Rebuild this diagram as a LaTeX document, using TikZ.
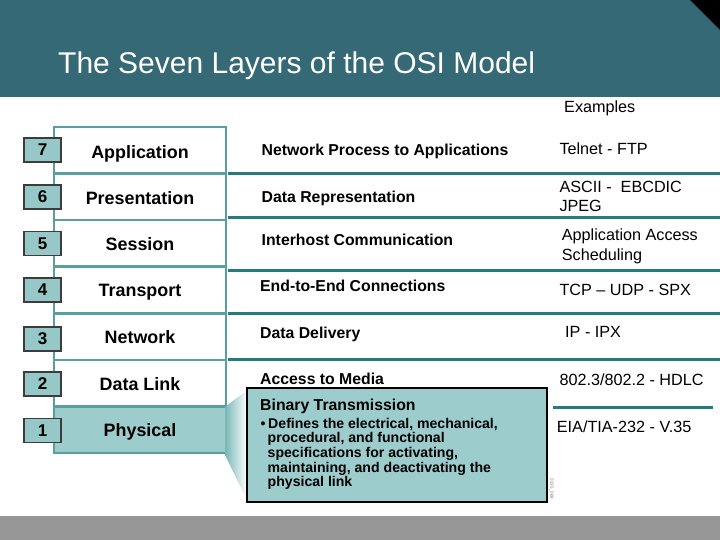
\documentclass[tikz,border=0pt]{standalone}
\usepackage{fontspec}
\setmainfont{Liberation Sans}
\definecolor{header}{RGB}{52,105,117}
\definecolor{tealline}{RGB}{38,124,124}
\definecolor{stackc}{RGB}{88,160,160}
\definecolor{lightteal}{RGB}{156,204,204}
\definecolor{shadeteal}{RGB}{120,182,182}
\definecolor{numfill}{RGB}{150,200,200}
\definecolor{barg}{RGB}{150,150,150}
\begin{document}
\begin{tikzpicture}[x=1pt,y=-1pt,
  rowbox/.style={draw=stackc,line width=2.5pt,minimum width=172pt,minimum height=46.6pt,inner sep=0pt},
  numbox/.style={draw={rgb,255:red,60;green,60;blue,60},line width=1.2pt,fill=numfill,minimum width=37pt,minimum height=24pt,inner sep=0pt,font=\fontsize{17}{20}\selectfont\bfseries},
  rowlabel/.style={anchor=base,inner sep=0pt,font=\fontsize{17.9}{20}\selectfont\bfseries},
  midlabel/.style={anchor=base west,inner sep=0pt,font=\fontsize{15.8}{18}\selectfont\bfseries},
  example/.style={anchor=base west,inner sep=0pt,font=\fontsize{16.2}{19}\selectfont},
  bullettext/.style={anchor=base west,inner sep=0pt,font=\fontsize{14.1}{15}\selectfont\bfseries},
  sepline/.style={draw=tealline,line width=3pt}
]
\useasboundingbox (0,0) rectangle (720,540);
% header
\fill[header] (0,0) rectangle (720,97);
\fill[black] (690,0) -- (720,0) -- (720,30) -- cycle;
\node[anchor=base west,inner sep=0pt,text=white,font=\fontsize{30}{32}\selectfont] (title) at (58,74) {The Seven Layers of the OSI Model};
% bottom bar
\fill[barg] (0,516) rectangle (720,540);

% stack rows
\node[rowbox] (r7) at (140,150.3) {};
\node[rowbox] (r6) at (140,196.9) {};
\node[rowbox] (r5) at (140,243.4) {};
\node[rowbox] (r4) at (140,290.0) {};
\node[rowbox] (r3) at (140,336.6) {};
\node[rowbox] (r2) at (140,383.1) {};
\node[rowbox,fill=lightteal] (r1) at (140,429.7) {};

\node[rowlabel] (l7) at (140,158.3) {Application};
\node[rowlabel] (l6) at (140,204.3) {Presentation};
\node[rowlabel] (l5) at (140,250.7) {Session};
\node[rowlabel] (l4) at (140,296.7) {Transport};
\node[rowlabel] (l3) at (140,343.3) {Network};
\node[rowlabel] (l2) at (140,390) {Data Link};
\node[rowlabel] (l1) at (140,436) {Physical};

% number boxes
\node[numbox] (n7) at (42.5,150) {7};
\node[numbox] (n6) at (42.5,197) {6};
\node[numbox] (n5) at (42.5,243.7) {5};
\node[numbox] (n4) at (42.5,290) {4};
\node[numbox] (n3) at (42.5,339) {3};
\node[numbox] (n2) at (42.5,384) {2};
\node[numbox] (n1) at (42.5,430.5) {1};

% separator lines
\coordinate (s1a) at (228,173.5); \coordinate (s1b) at (720,173.5);
\coordinate (s2a) at (228,217.5); \coordinate (s2b) at (720,217.5);
\coordinate (s3a) at (228,270.7); \coordinate (s3b) at (720,270.7);
\coordinate (s4a) at (228,313); \coordinate (s4b) at (720,313);
\coordinate (s5a) at (228,359.7); \coordinate (s5b) at (720,359.7);
\coordinate (s6a) at (553,407.7); \coordinate (s6b) at (713,407.7);
\draw[sepline] (s1a) -- (s1b);
\draw[sepline] (s2a) -- (s2b);
\draw[sepline] (s3a) -- (s3b);
\draw[sepline] (s4a) -- (s4b);
\draw[sepline] (s5a) -- (s5b);
\draw[sepline] (s6a) -- (s6b);

% middle labels
\node[midlabel] (m7) at (261.5,155.7) {Network Process to Applications};
\node[midlabel] (m6) at (261.5,203) {Data Representation};
\node[midlabel] (m5) at (261.5,245.7) {Interhost Communication};
\node[midlabel] (m4) at (260,291) {End-to-End Connections};
\node[midlabel] (m3) at (260,338.3) {Data Delivery};
\node[midlabel] (m2) at (260,384.3) {Access to Media};

% callout shading
\shade[left color=shadeteal, right color=white] (225,407) -- (247,390) -- (247,500) -- (225,455) -- cycle;
\node[draw=black,line width=1.2pt,fill=lightteal,minimum width=300pt,minimum height=114pt,inner sep=0pt] (cb) at (397,445) {};
\node[midlabel] (cbt) at (260,410) {Binary Transmission};
\node[bullettext] (b1) at (260.5,428.3) {•\hspace{2.6pt}Defines the electrical, mechanical,};
\node[bullettext] (b2) at (267.5,442.9) {procedural, and functional};
\node[bullettext] (b3) at (267.5,457.5) {specifications for activating,};
\node[bullettext] (b4) at (267.5,472.1) {maintaining, and deactivating the};
\node[bullettext] (b5) at (267.5,486.7) {physical link};
\node[rotate=-90,inner sep=0pt,text={rgb,255:red,120;green,120;blue,120},font=\fontsize{4.5}{5}\selectfont] (code) at (551.5,489) {0235\_068};

% examples
\node[example] (ex) at (564,112.5) {Examples};
\node[example] (e7) at (559.3,155) {Telnet - FTP};
\node[example] (e6a) at (559.3,192.7) {ASCII -\ \ EBCDIC};
\node[example] (e6b) at (559.3,211.7) {JPEG};
\node[example] (e5a) at (561.7,240.7) {Application Access};
\node[example] (e5b) at (561.7,260) {Scheduling};
\node[example] (e4) at (559.3,295) {TCP – UDP - SPX};
\node[example] (e3) at (565,337.7) {IP - IPX};
\node[example] (e2) at (559.3,385.3) {802.3/802.2 - HDLC};
\node[example] (e1) at (556.7,432.3) {EIA/TIA-232 - V.35};
\end{tikzpicture}
\end{document}
